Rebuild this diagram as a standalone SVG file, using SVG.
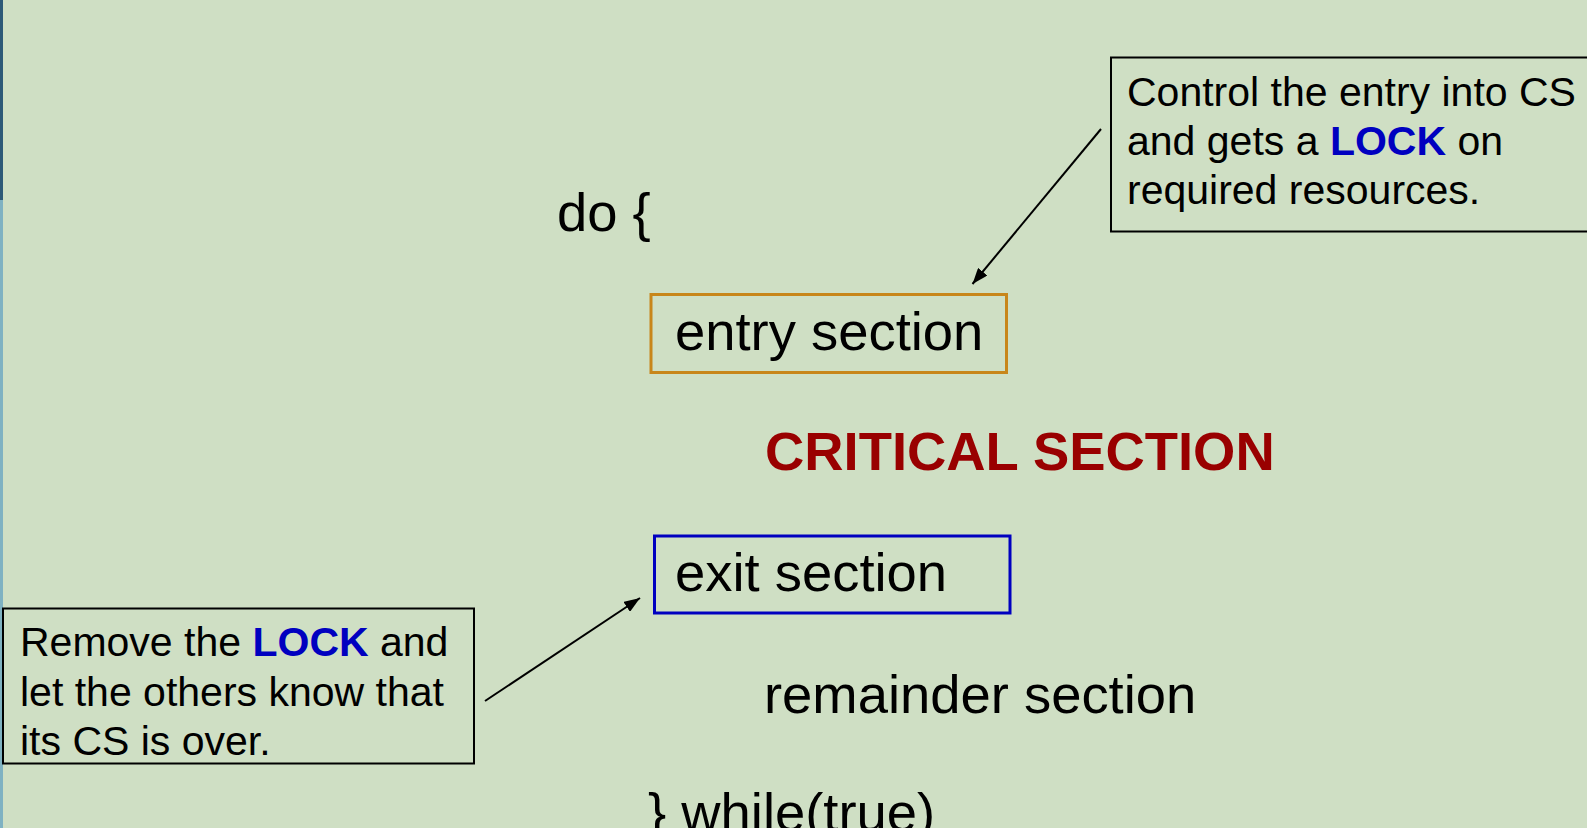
<svg xmlns="http://www.w3.org/2000/svg" width="1587" height="828" viewBox="0 0 1587 828">
<defs>
<style>
.t{font-family:"Liberation Sans",Arial,sans-serif;fill:#000}
.big{font-size:54.4px}
.sm{font-size:41px}
.lock{fill:#0000c0;font-weight:bold}
.call{fill:none;stroke:#000;stroke-width:2}
.conn{stroke:#000;stroke-width:2;fill:none}
</style>
<marker id="ah" viewBox="0 0 16 12" refX="16" refY="6" markerWidth="16" markerHeight="12" markerUnits="userSpaceOnUse" orient="auto">
<path d="M0,0 L16,6 L0,12 z" fill="#000"/>
</marker>
</defs>
<rect x="0" y="0" width="1587" height="828" fill="#cfdfc4"/>
<rect x="0" y="0" width="3" height="200" fill="#2d5a78"/>
<rect x="0" y="200" width="3" height="628" fill="#7fb2c2"/>

<g id="do"><text class="t big" x="557" y="231">do {</text></g>

<g id="entry">
<rect x="651" y="294.5" width="355.5" height="78" fill="none" stroke="#c8861a" stroke-width="3"/>
<text class="t big" x="675" y="350">entry section</text>
</g>

<g id="critical"><text class="t big" x="765" y="470" font-weight="bold" style="fill:#990000">CRITICAL SECTION</text></g>

<g id="exit">
<rect x="654.5" y="536" width="355.5" height="77" fill="none" stroke="#0000c0" stroke-width="3"/>
<text class="t big" x="675" y="591">exit section</text>
</g>

<g id="remainder"><text class="t big" x="764" y="713">remainder section</text></g>

<g id="while"><text class="t big" x="648" y="831">} while(true)</text></g>

<g id="callout-entry">
<rect class="call" x="1111" y="57.5" width="490" height="174"/>
<text class="t sm" x="1127" y="106">Control the entry into CS</text>
<text class="t sm" x="1127" y="155">and gets a <tspan class="lock">LOCK</tspan> on</text>
<text class="t sm" x="1127" y="204">required resources.</text>
</g>

<g id="callout-exit">
<rect class="call" x="3" y="608.5" width="471" height="155"/>
<text class="t sm" x="20" y="656">Remove the <tspan class="lock">LOCK</tspan> and</text>
<text class="t sm" x="20" y="706">let the others know that</text>
<text class="t sm" x="20" y="755">its CS is over.</text>
</g>

<g id="connectors">
<line class="conn" x1="1101" y1="129" x2="972.5" y2="284" marker-end="url(#ah)"/>
<line class="conn" x1="485" y1="701" x2="640" y2="598" marker-end="url(#ah)"/>
</g>
</svg>
